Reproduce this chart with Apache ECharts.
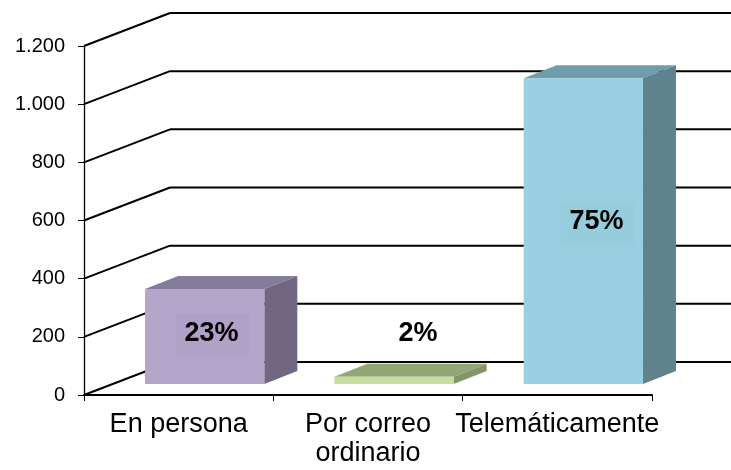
<!DOCTYPE html>
<html>
<head>
<meta charset="utf-8">
<script src="https://cdn.jsdelivr.net/npm/echarts@6/dist/echarts.min.js"></script>
<style>
html,body{margin:0;padding:0;background:#fff;}
#chart{width:731px;height:470px;}
</style>
</head>
<body>
<div id="chart"></div>
<script>
const categories = ['En persona', 'Por correo\nordinario', 'Telemáticamente'];
const values = [327, 25, 1051];
const pctLabels = ['23%', '2%', '75%'];
const yTicks = [0, 200, 400, 600, 800, 1000, 1200];

const frontColors = ['#b4a6cb', '#c9dca0', '#99d0e1'];
const topColors = ['#857b9a', '#93a676', '#6f9dab'];
const sideColors = ['#716783', '#849668', '#5f838c'];
const labelBg = ['#ab9dc2', null, '#93c9da'];

const WALL_DX = 86, WALL_DY = -33;
const FRONT_DX = 26, FRONT_DY = -11;
const DEPTH_DX = 33, DEPTH_DY = -13;
const FONT = '"Liberation Sans", Arial, sans-serif';

function fmt(v) {
  return String(v).replace(/\B(?=(\d{3})+(?!\d))/g, '.');
}

const chart = echarts.init(document.getElementById('chart'), null, {renderer: 'canvas'});

const option = {
  animation: false,
  grid: {left: 84, top: 46, width: 568, height: 349, containLabel: false},
  xAxis: {
    type: 'category',
    data: categories,
    boundaryGap: true,
    axisLine: {show: true, lineStyle: {color: '#000', width: 2}},
    axisTick: {show: true, length: 6, lineStyle: {color: '#000', width: 1}},
    axisLabel: {
      color: '#000', fontFamily: FONT, fontSize: 27, lineHeight: 29, margin: 15, interval: 0
    },
    splitLine: {show: false}
  },
  yAxis: {
    type: 'value',
    min: 0, max: 1200, interval: 200,
    axisLine: {show: true, lineStyle: {color: '#000', width: 1.3}},
    axisTick: {show: true, length: 6, lineStyle: {color: '#000', width: 1}},
    axisLabel: {
      color: '#000', fontFamily: FONT, fontSize: 20, margin: 19,
      formatter: function (v) { return fmt(v); }
    },
    splitLine: {show: false}
  },
  series: [
    {
      type: 'custom',
      z: 1,
      silent: true,
      data: [[0, 0]],
      renderItem: function (params, api) {
        const cs = params.coordSys;
        const x0 = cs.x;
        const W = api.getWidth();
        const children = [];
        yTicks.forEach(function (v) {
          const yF = api.coord([0, v])[1];
          children.push({
            type: 'line',
            shape: {x1: x0, y1: yF, x2: x0 + WALL_DX, y2: yF + WALL_DY},
            style: {stroke: '#000', lineWidth: 2}
          });
          children.push({
            type: 'line',
            shape: {x1: x0 + WALL_DX, y1: yF + WALL_DY, x2: W, y2: yF + WALL_DY},
            style: {stroke: '#000', lineWidth: 2}
          });
        });
        return {type: 'group', children: children};
      }
    },
    {
      type: 'custom',
      z: 3,
      data: values.map(function (v, i) { return [i, v]; }),
      renderItem: function (params, api) {
        const idx = api.value(0);
        const val = api.value(1);
        const c = api.coord([idx, val]);
        const c0 = api.coord([idx, 0]);
        const band = api.size([1, 0])[0];
        const fw = band * 0.63;
        const fx = c[0] + FRONT_DX - fw / 2;
        const fy0 = c0[1] + FRONT_DY;
        const fyT = c[1] + FRONT_DY;
        const h = fy0 - fyT;
        const i = params.dataIndex;
        const children = [
          {
            type: 'polygon',
            shape: {points: [[fx, fyT], [fx + fw, fyT], [fx + fw + DEPTH_DX, fyT + DEPTH_DY], [fx + DEPTH_DX, fyT + DEPTH_DY]]},
            style: {fill: topColors[i]}
          },
          {
            type: 'polygon',
            shape: {points: [[fx + fw, fyT], [fx + fw + DEPTH_DX, fyT + DEPTH_DY], [fx + fw + DEPTH_DX, fy0 + DEPTH_DY], [fx + fw, fy0]]},
            style: {fill: sideColors[i]}
          },
          {
            type: 'rect',
            shape: {x: fx, y: fyT, width: fw, height: h},
            style: {fill: frontColors[i]}
          }
        ];
        let lx, ly;
        if (h < 40) {
          lx = fx + fw / 2 + 24;
          ly = fyT - 43;
        } else {
          lx = fx + fw / 2 + 4 + h * 0.03;
          ly = fy0 - h * 0.53;
        }
        if (labelBg[i]) {
          children.push({
            type: 'rect',
            shape: {x: lx - 36, y: ly - 20, width: 74, height: 42},
            style: {fill: labelBg[i], opacity: 0.45}
          });
        }
        children.push({
          type: 'text',
          style: {
            text: pctLabels[i],
            x: lx, y: ly,
            align: 'center', verticalAlign: 'middle',
            font: 'bold 27px ' + FONT,
            fill: '#000'
          }
        });
        return {type: 'group', children: children};
      }
    }
  ]
};
chart.setOption(option);
</script>
</body>
</html>
